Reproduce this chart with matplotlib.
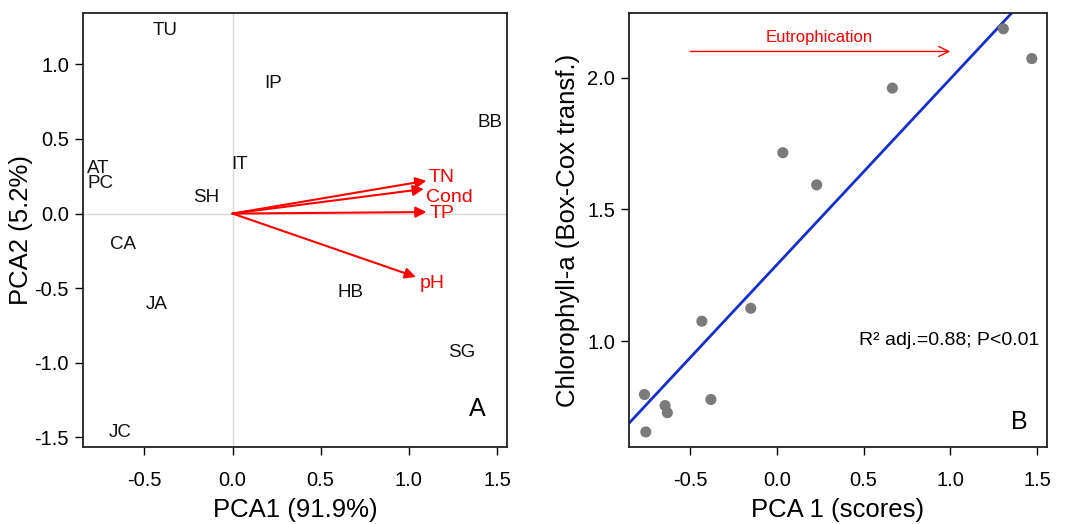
"""PCA biplot of sites (A) and chlorophyll-a vs PCA1 scores (B)."""

import matplotlib
matplotlib.use("Agg")
import matplotlib.pyplot as plt
import numpy as np

plt.rcParams["font.family"] = ["Liberation Sans", "DejaVu Sans"]

# Panel A: site scores
sites = ["TU", "IP", "BB", "IT", "AT", "PC", "SH", "CA", "JA", "HB", "SG", "JC"]
site_x = [-0.38, 0.23, 1.46, 0.04, -0.76, -0.75, -0.15, -0.62, -0.43, 0.67, 1.30, -0.64]
site_y = [1.23, 0.87, 0.61, 0.33, 0.30, 0.20, 0.11, -0.21, -0.61, -0.53, -0.93, -1.47]

# Panel A: variable loadings (arrow tips) and label offsets
variables = ["TN", "Cond", "TP", "pH"]
var_x = [1.10, 1.085, 1.10, 1.04]
var_y = [0.22, 0.165, 0.01, -0.425]
label_dx = [0.01, 0.01, 0.02, 0.02]
label_dy = [0.02, -0.06, -0.01, -0.045]

# Panel B: PCA1 scores vs chlorophyll-a (Box-Cox)
pca1 = [1.306, 1.470, 0.666, 0.035, 0.230, -0.150, -0.432, -0.380, -0.763, -0.644, -0.631, -0.755]
chla = [2.185, 2.072, 1.960, 1.715, 1.593, 1.125, 1.076, 0.779, 0.798, 0.756, 0.729, 0.656]

ticks = [-0.5, 0.0, 0.5, 1.0, 1.5]

fig = plt.figure(figsize=(10.67, 5.24), dpi=100)
ax1 = fig.add_axes([0.0778, 0.147, 0.3974, 0.828])
ax2 = fig.add_axes([0.5895, 0.147, 0.3915, 0.828])

for ax in (ax1, ax2):
    for s in ax.spines.values():
        s.set_linewidth(1.3)
        s.set_color("#222222")
    ax.tick_params(direction="out", length=6, width=1, labelsize=14.5, pad=4)
    ax.tick_params(axis="x", pad=11)
    ax.set_xticks(ticks)
    ax.set_xticklabels([f"{t:.1f}" for t in ticks])

# ---- Panel A ----
ax1.axhline(0, color="#d9d9d9", lw=1, zorder=0)
ax1.axvline(0, color="#d9d9d9", lw=1, zorder=0)
for name, x, y in zip(sites, site_x, site_y):
    ax1.text(x, y, name, ha="center", va="center", fontsize=13.5, color="#111111")
for name, x, y, dx, dy in zip(variables, var_x, var_y, label_dx, label_dy):
    ax1.annotate("", xy=(x, y), xytext=(0, 0),
                 arrowprops=dict(arrowstyle="-|>", color="red", lw=1.5,
                                 mutation_scale=16, shrinkA=0, shrinkB=0))
    ax1.text(x + dx, y + dy, name, ha="left", va="center", fontsize=14, color="red")
ax1.text(1.39, -1.31, "A", ha="center", va="center", fontsize=18)
ax1.set_xlim(-0.848, 1.557)
ax1.set_ylim(-1.565, 1.344)
ax1.set_yticks([-1.5, -1.0, -0.5, 0.0, 0.5, 1.0])
ax1.set_yticklabels(["-1.5", "-1.0", "-0.5", "0.0", "0.5", "1.0"])
ax1.set_xlabel("PCA1 (91.9%)", fontsize=18.5, labelpad=6)
ax1.set_ylabel("PCA2 (5.2%)", fontsize=18.5, labelpad=1)

# ---- Panel B ----
xlim = (-0.852, 1.556)
ax2.scatter(pca1, chla, s=64, color="#7a7a7a", edgecolors="none", zorder=3)
slope, intercept = np.polyfit(pca1, chla, 1)
xs = np.array(xlim)
ax2.plot(xs, intercept + slope * xs, color="#1530c8", lw=2, zorder=2)
ax2.annotate("", xy=(1.0, 2.099), xytext=(-0.5, 2.099),
             arrowprops=dict(arrowstyle="->", color="red", lw=1,
                             mutation_scale=18, shrinkA=0, shrinkB=0))
ax2.text(0.246, 2.152, "Eutrophication", ha="center", va="center", fontsize=12, color="red")
ax2.text(1.515, 1.004, "R² adj.=0.88; P<0.01", ha="right", va="center", fontsize=14)
ax2.text(1.397, 0.694, "B", ha="center", va="center", fontsize=18)
ax2.set_xlim(*xlim)
ax2.set_ylim(0.599, 2.2445)
ax2.set_yticks([1.0, 1.5, 2.0])
ax2.set_yticklabels(["1.0", "1.5", "2.0"])
ax2.set_xlabel("PCA 1 (scores)", fontsize=18.5, labelpad=6)
ax2.set_ylabel("Chlorophyll-a (Box-Cox transf.)", fontsize=18.5, labelpad=5)

fig.savefig("out.png", dpi=100)
